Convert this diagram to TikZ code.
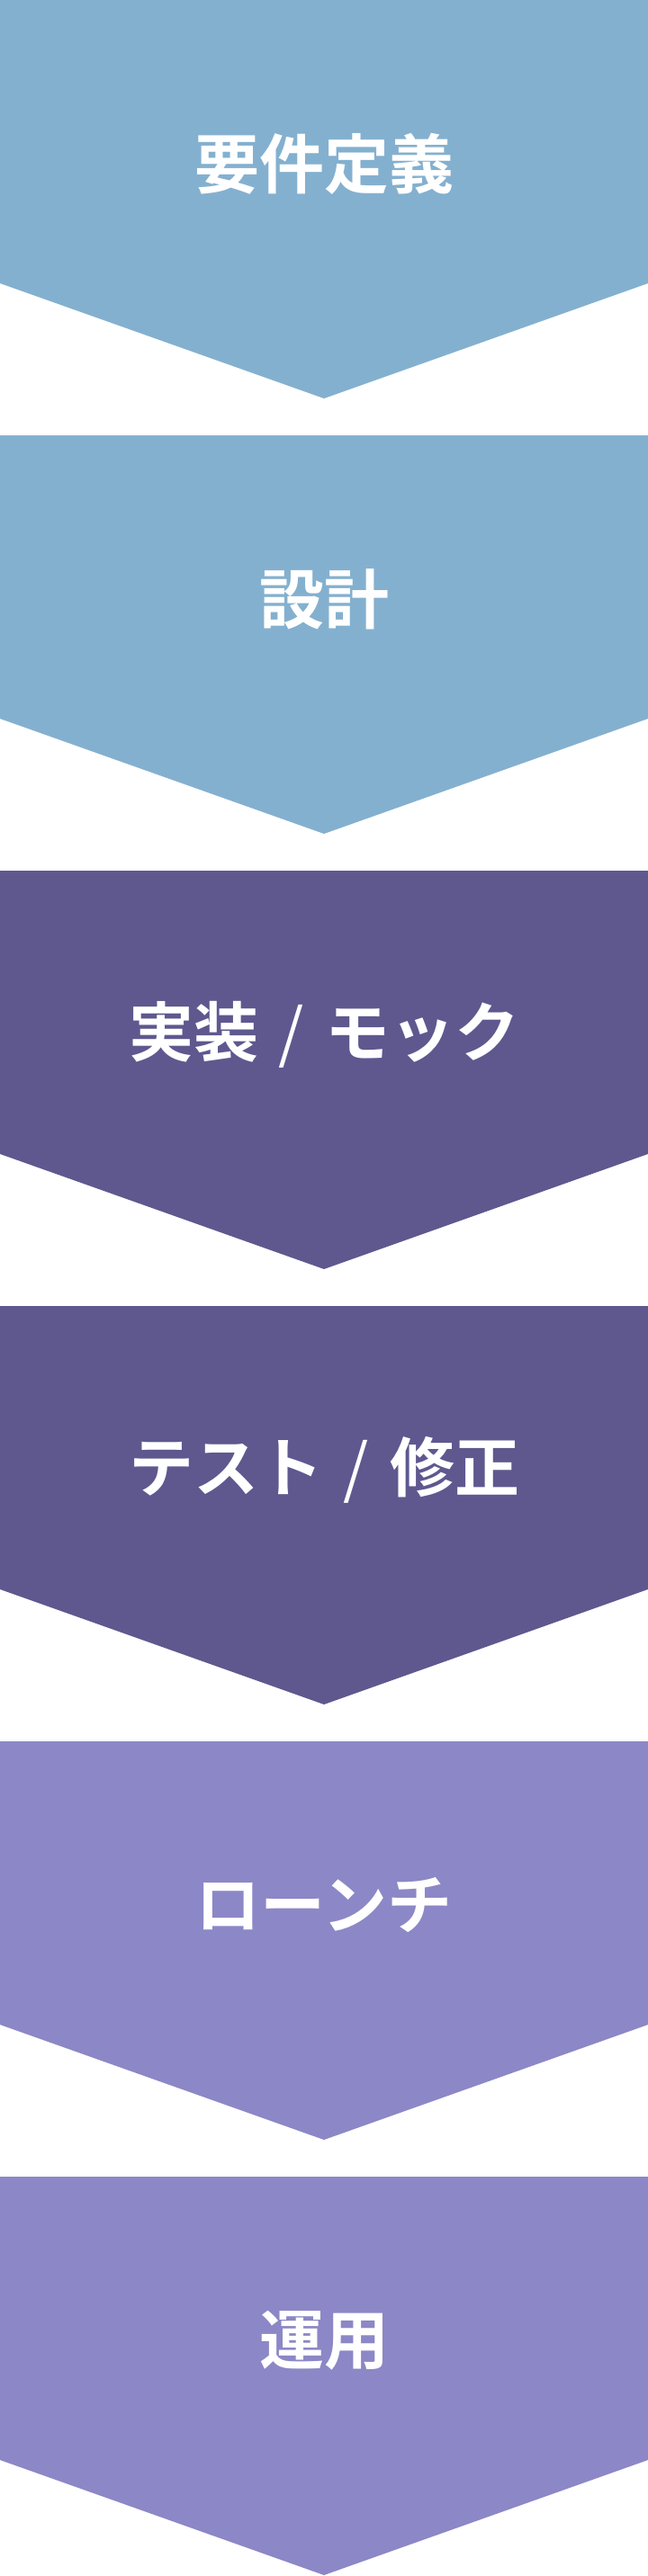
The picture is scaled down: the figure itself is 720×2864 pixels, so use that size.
\documentclass[tikz,border=0pt]{standalone}
\usepackage{fontspec}
\setmainfont{Noto Sans CJK JP}[BoldFont={Noto Sans CJK JP Bold}]
\definecolor{reqblue}{HTML}{84B0CF}
\definecolor{devpurple}{HTML}{5E588F}
\definecolor{opslavender}{HTML}{8C87C6}
\newcommand{\stagesep}{\makebox[74pt]{\mdseries /}}
\tikzset{
  label/.style={text=white, inner sep=0pt, font=\fontsize{72}{86}\selectfont\bfseries},
}
\begin{document}
\begin{tikzpicture}[x=1pt, y=-1pt]
        \useasboundingbox (0, 0) rectangle (720, 2864);

        \fill[reqblue] (0, 0) -- (720, 0) -- (720, 315) -- (360, 443) -- (0, 315) -- cycle;
        \fill[reqblue] (0, 484) -- (720, 484) -- (720, 799) -- (360, 927) -- (0, 799) -- cycle;
        \fill[devpurple] (0, 968) -- (720, 968) -- (720, 1283) -- (360, 1411) -- (0, 1283) -- cycle;
        \fill[devpurple] (0, 1452) -- (720, 1452) -- (720, 1767) -- (360, 1895) -- (0, 1767) -- cycle;
        \fill[opslavender] (0, 1936) -- (720, 1936) -- (720, 2251) -- (360, 2379) -- (0, 2251) -- cycle;
        \fill[opslavender] (0, 2420) -- (720, 2420) -- (720, 2735) -- (360, 2863) -- (0, 2735) -- cycle;

        \node[label] (REQ) at (360, 182) {要件定義};
        \node[label] (DES) at (360, 666) {設計};
        \node[label] (IMP) at (360, 1150) {実装\stagesep モック};
        \node[label] (TST) at (360, 1634) {テスト\stagesep 修正};
        \node[label] (LCH) at (360, 2118) {ローンチ};
        \node[label] (OPS) at (360, 2602) {運用};
    \end{tikzpicture}
\end{document}
